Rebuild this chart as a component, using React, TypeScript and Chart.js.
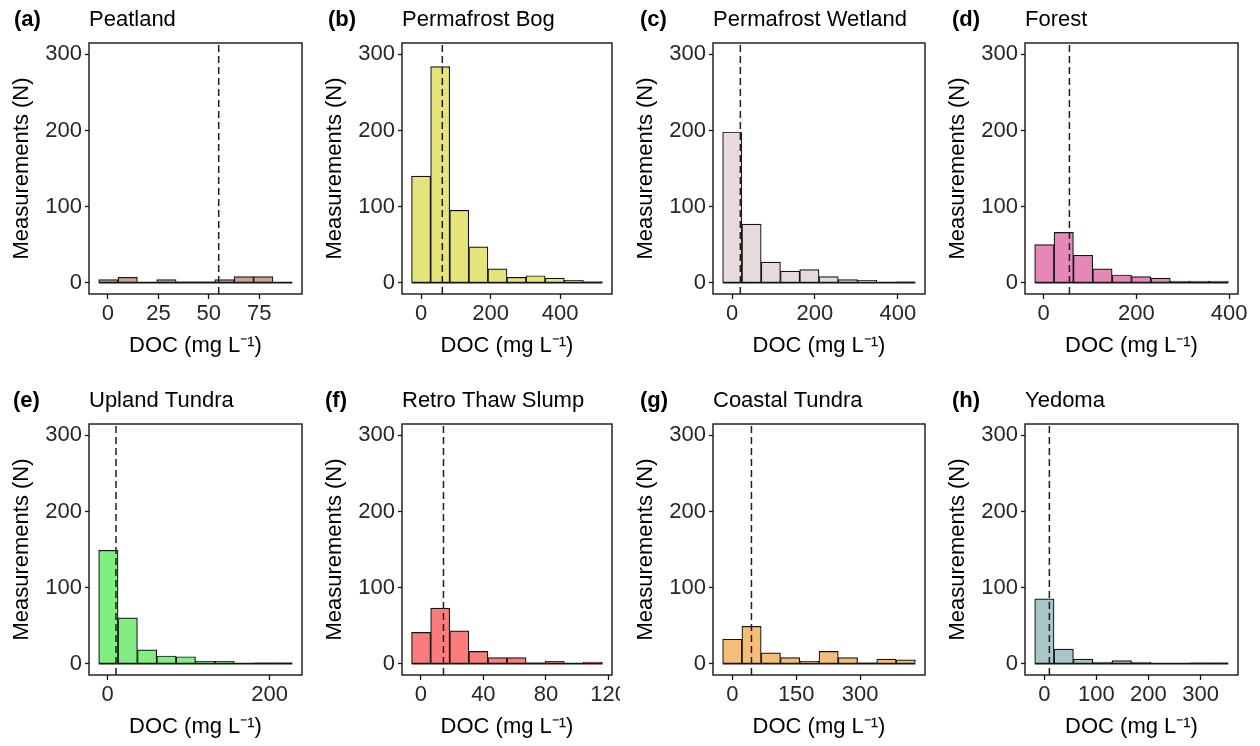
import React, { useEffect, useRef } from "react";
import { Chart, registerables } from "chart.js";

Chart.register(...registerables);

// ---------------- data ----------------
const panelTags = ["(a)", "(b)", "(c)", "(d)", "(e)", "(f)", "(g)", "(h)"];
const panelNames = [
  "Peatland",
  "Permafrost Bog",
  "Permafrost Wetland",
  "Forest",
  "Upland Tundra",
  "Retro Thaw Slump",
  "Coastal Tundra",
  "Yedoma",
];

const yTickValues = [0, 100, 200, 300];
const yMin = -15;
const yMax = 315;

// bin centres (mg L-1) and counts per bin
const peatlandBins = [0.2, 9.8, 19.4, 29.0, 38.6, 48.2, 57.8, 67.4, 77.0, 86.6];
const peatlandCounts = [4, 7, 0, 4, 1, 1, 4, 8, 8, 0];
const peatlandMedian = 54.9;
const peatlandTicks = [0, 25, 50, 75];

const bogBins = [0, 54.9, 109.8, 164.7, 219.6, 274.5, 329.4, 384.3, 439.2, 494.1];
const bogCounts = [140, 284, 95, 47, 18, 7, 9, 6, 3, 1];
const bogMedian = 61;
const bogTicks = [0, 200, 400];

const wetlandBins = [0.5, 47, 93.5, 140, 186.5, 233, 279.5, 326, 372.5, 419];
const wetlandCounts = [198, 77, 27, 15, 17, 8, 4, 3, 0, 1];
const wetlandMedian = 20;
const wetlandTicks = [0, 200, 400];

const forestBins = [1.4, 43.2, 85, 126.8, 168.6, 210.4, 252.2, 294, 335.8, 377.6];
const forestCounts = [50, 66, 36, 18, 10, 8, 6, 2, 2, 2];
const forestMedian = 55.5;
const forestTicks = [0, 200, 400];

const uplandBins = [0.9, 24.8, 48.7, 72.6, 96.5, 120.4, 144.3, 168.2, 192.1, 216];
const uplandCounts = [149, 60, 18, 10, 9, 3, 3, 0, 1, 1];
const uplandMedian = 10.3;
const uplandTicks = [0, 200];

const slumpBins = [0.2, 12.4, 24.6, 36.8, 49, 61.2, 73.4, 85.6, 97.8, 110];
const slumpCounts = [41, 73, 43, 16, 8, 8, 1, 3, 0, 2];
const slumpMedian = 14.5;
const slumpTicks = [0, 40, 80, 120];

const coastalBins = [0, 45.2, 90.4, 135.6, 180.8, 226, 271.2, 316.4, 361.6, 406.8];
const coastalCounts = [32, 49, 14, 8, 3, 16, 8, 1, 6, 5];
const coastalMedian = 45;
const coastalTicks = [0, 150, 300];

const yedomaBins = [0, 37.2, 74.4, 111.6, 148.8, 186, 223.2, 260.4, 297.6, 334.8];
const yedomaCounts = [85, 19, 6, 2, 4, 2, 0, 0, 1, 1];
const yedomaMedian = 9.6;
const yedomaTicks = [0, 100, 200, 300];

const allBins = [peatlandBins, bogBins, wetlandBins, forestBins, uplandBins, slumpBins, coastalBins, yedomaBins];
const allCounts = [peatlandCounts, bogCounts, wetlandCounts, forestCounts, uplandCounts, slumpCounts, coastalCounts, yedomaCounts];
const allMedians = [peatlandMedian, bogMedian, wetlandMedian, forestMedian, uplandMedian, slumpMedian, coastalMedian, yedomaMedian];
const allTicks = [peatlandTicks, bogTicks, wetlandTicks, forestTicks, uplandTicks, slumpTicks, coastalTicks, yedomaTicks];

// ---------------- styles / layout ----------------
const fillColors = ["#C9A391", "#E4E47A", "#E6DADA", "#E588B8", "#80EE80", "#FA7C7C", "#F5BE78", "#A8C6C6"];

const panelBoxes = [
  { left: 89, top: 43, width: 213, tagX: 14, rightPad: 14 },
  { left: 402, top: 43, width: 210, tagX: 328, rightPad: 14 },
  { left: 713, top: 43, width: 212, tagX: 640, rightPad: 14 },
  { left: 1025, top: 43, width: 213, tagX: 952, rightPad: 14 },
  { left: 89, top: 424, width: 213, tagX: 13, rightPad: 14 },
  { left: 402, top: 424, width: 210, tagX: 325, rightPad: 8 },
  { left: 713, top: 424, width: 212, tagX: 640, rightPad: 14 },
  { left: 1025, top: 424, width: 213, tagX: 952, rightPad: 14 },
];
const BOX_H = 251;
const AXIS_W = 86;
const AXIS_H = 75;
const TOP_PAD = 43;
const FONT = "'Liberation Sans', Arial, Helvetica, sans-serif";
const FONT_SIZE = 22;
const INK = "#141414";
const TICK_INK = "#262626";

function Panel({ idx }: { idx: number }) {
  const ref = useRef<HTMLCanvasElement | null>(null);
  const box = panelBoxes[idx];
  const cLeft = box.left - AXIS_W;
  const cTop = box.top - TOP_PAD;
  const cWidth = AXIS_W + box.width + box.rightPad;
  const cHeight = TOP_PAD + BOX_H + AXIS_H;

  useEffect(() => {
    const bins = allBins[idx];
    const counts = allCounts[idx];
    const w = bins[1] - bins[0];
    const lo = bins[0] - w / 2;
    const hi = bins[bins.length - 1] + w / 2;
    const expand = (hi - lo) * 0.05;
    const median = allMedians[idx];
    const xTicks = allTicks[idx];

    const decor = {
      id: "panelDecor" + idx,
      afterDatasetsDraw(chart: any) {
        const { ctx, chartArea } = chart;
        ctx.save();
        ctx.strokeStyle = INK;
        ctx.lineWidth = 1.4;
        ctx.strokeRect(chartArea.left, chartArea.top, chartArea.right - chartArea.left, chartArea.bottom - chartArea.top);
        ctx.restore();
      },
      afterDraw(chart: any) {
        const { ctx, chartArea } = chart;
        ctx.save();
        ctx.fillStyle = "#000";
        ctx.textBaseline = "alphabetic";
        ctx.textAlign = "left";
        const baseY = chartArea.top - 17;
        ctx.font = `bold ${FONT_SIZE}px ${FONT}`;
        ctx.fillText(panelTags[idx], box.tagX - cLeft, baseY);
        ctx.font = `${FONT_SIZE}px ${FONT}`;
        ctx.fillText(panelNames[idx], chartArea.left, baseY);
        ctx.restore();
      },
    };

    const chart = new Chart(ref.current as HTMLCanvasElement, {
      type: "bar",
      data: {
        datasets: [
          {
            type: "line",
            data: [
              { x: median, y: yMin },
              { x: median, y: yMax },
            ],
            borderColor: "#1f1f1f",
            borderWidth: 1.5,
            borderDash: [7, 4],
            pointRadius: 0,
            order: 0,
          } as any,
          {
            type: "line",
            data: [
              { x: lo, y: 0 },
              { x: hi, y: 0 },
            ],
            borderColor: INK,
            borderWidth: 1.6,
            pointRadius: 0,
            order: 1,
          } as any,
          {
            type: "bar",
            data: bins.map((b, i) => ({ x: b, y: counts[i] })),
            backgroundColor: fillColors[idx],
            borderColor: INK,
            borderWidth: 1.2,
            borderSkipped: "start",
            barPercentage: 1,
            categoryPercentage: 1,
            order: 2,
          } as any,
        ],
      },
      options: {
        responsive: false,
        animation: false,
        events: [],
        layout: { padding: { top: TOP_PAD, right: box.rightPad, left: 0, bottom: 0 } },
        plugins: {
          legend: { display: false },
          tooltip: { enabled: false },
          title: { display: false },
        },
        scales: {
          x: {
            type: "linear",
            offset: false,
            min: lo - expand,
            max: hi + expand,
            afterBuildTicks: (s: any) => {
              s.ticks = xTicks.map((v) => ({ value: v }));
            },
            afterFit: (s: any) => {
              s.height = AXIS_H;
              s.paddingLeft = 0;
              s.paddingRight = 0;
            },
            ticks: {
              autoSkip: false,
              maxRotation: 0,
              minRotation: 0,
              padding: 2,
              color: TICK_INK,
              font: { family: FONT, size: FONT_SIZE },
              callback: (v: any) => String(v),
            },
            grid: {
              display: true,
              offset: false,
              drawOnChartArea: false,
              drawTicks: true,
              tickLength: 5,
              tickColor: INK,
              tickWidth: 1.3,
            },
            border: { display: false },
            title: {
              display: true,
              text: "DOC (mg L\u207B\u00B9)",
              color: "#000",
              font: { family: FONT, size: FONT_SIZE },
              padding: { top: 0, bottom: 10 },
            },
          },
          y: {
            type: "linear",
            min: yMin,
            max: yMax,
            afterBuildTicks: (s: any) => {
              s.ticks = yTickValues.map((v) => ({ value: v }));
            },
            afterFit: (s: any) => {
              s.width = AXIS_W;
              s.paddingTop = 0;
              s.paddingBottom = 0;
            },
            ticks: {
              padding: 3,
              color: TICK_INK,
              font: { family: FONT, size: FONT_SIZE },
              callback: (v: any) => String(v),
            },
            grid: {
              display: true,
              drawOnChartArea: false,
              drawTicks: true,
              tickLength: 4,
              tickColor: INK,
              tickWidth: 1.3,
            },
            border: { display: false },
            title: {
              display: true,
              text: "Measurements (N)",
              color: "#000",
              font: { family: FONT, size: FONT_SIZE },
              padding: { top: 6, bottom: 0 },
            },
          },
        },
      } as any,
      plugins: [decor],
    });
    return () => chart.destroy();
  }, [idx]);

  return (
    <canvas
      ref={ref}
      width={cWidth}
      height={cHeight}
      style={{ position: "absolute", left: cLeft, top: cTop, width: cWidth, height: cHeight }}
    />
  );
}

export default function App() {
  return (
    <div
      style={{
        position: "absolute",
        left: 0,
        top: 0,
        width: 1260,
        height: 746,
        background: "#ffffff",
        overflow: "hidden",
      }}
    >
      {panelNames.map((_, i) => (
        <Panel key={i} idx={i} />
      ))}
    </div>
  );
}
